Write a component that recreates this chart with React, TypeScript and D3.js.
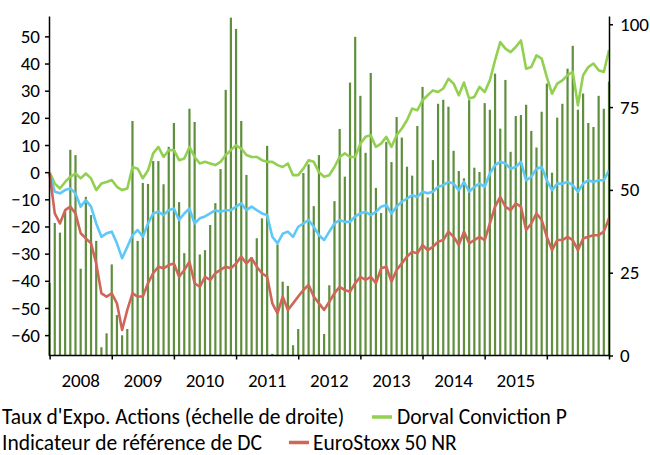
import React, { useEffect, useRef } from "react";
import * as d3 from "d3";

// one value per month, Jan 2008 -> Jan 2017
// Taux d'Expo. Actions (right axis)
const exposure = [
  21.9, 40.0, 37.1, 43.6, 62.1, 60.5, 26.2, 47.9, 42.4, 34.6, 2.5, 6.7,
  27.5, 12.2, 6.1, 8.0, 70.8, 34.6, 52.1, 51.8, 58.7, 58.7, 51.7, 63.0,
  70.2, 46.3, 30.9, 74.5, 70.5, 30.5, 31.8, 39.4, 46.0, 56.3, 80.2, 102,
  98.6, 70.8, 54.5, 29.7, 35.4, 41.4, 63.3, 0.5, 33.5, 22.3, 21.0, 3.1,
  8, 55.1, 57.7, 45.1, 60.5, 6.5, 21.2, 46.6, 68.4, 54.0, 82.4, 96.2,
  78.4, 61.2, 85.3, 50.6, 43, 64.5, 58.4, 72.0, 65.8, 57.0, 54.3, 69.3,
  81.1, 47.7, 59.0, 76.0, 77.2, 75.1, 61.8, 55.7, 53.5, 77.1, 56.7, 55.4,
  76.2, 74.2, 85.1, 68.5, 83.2, 61.5, 72.3, 72.6, 75.7, 67.8, 62.8, 73.6,
  82.1, 55.2, 71.8, 76.0, 86.6, 93.5, 74.2, 79.1, 70.2, 69.0, 78.4, 74.5,
  82.7,
];

// Dorval Conviction P (left axis, perf in %)
const dorval = [
  0, -4.2, -6, -3.6, -1.7, -0.5, -2.3, -0.5, -2.3, -6.6, -4.2, -3.6,
  -2.9, -5.4, -6.6, -6, 1.9, 1.3, -2.3, 0.7, 6.9, 9.3, 5.6, 8.1,
  8.1, 4.4, 5, 9.3, 5.6, 3.2, 3.8, 3.2, 2.6, 3.8, 6.3, 8.1,
  9.9, 8.7, 6.3, 5.6, 5.6, 4.4, 3.8, 3.8, 2.6, 1.9, 3.2, -1.1,
  -1.1, 1.3, 4.4, 3.8, 0, -1.7, -1.1, 1.9, 5.6, 6.9, 5.6, 5.6,
  10.5, 13.0, 13.6, 9.3, 10.5, 13.0, 9.3, 13.6, 16.1, 19.1, 23.4, 22.8,
  26.5, 28.3, 30.1, 29.5, 30.8, 34.4, 32.6, 28.3, 33.0, 27.1, 27.7, 31.4,
  29.5, 33.8, 41.2, 47.9, 45.5, 44.2, 46.1, 48.5, 38.1, 38.7, 43.0, 41.8,
  35.0, 28.9, 32.6, 33.8, 35.7, 36.9, 24.6, 35.7, 38.7, 40.0, 37.5, 36.9,
  44.9,
];

// Indicateur de référence de DC
const indicateur = [
  -0.5, -7.2, -7.8, -6.6, -6.0, -7.8, -12.7, -10.3, -12.7, -18.9, -23.8, -22.5,
  -21.9, -26.2, -31.7, -27.5, -23.2, -21.3, -23.8, -18.9, -15.2, -14.6, -15.8, -14.0,
  -13.4, -17.6, -15.2, -13.4, -18.9, -17.0, -16.3, -15.2, -14.0, -14.6, -14.0, -14.0,
  -12.7, -11.5, -14.0, -12.7, -14.0, -15.2, -15.8, -23.8, -26.2, -22.7, -21.9, -23.8,
  -20.1, -18.9, -17.6, -20.1, -23.2, -25.0, -21.9, -18.9, -17.6, -18.3, -18.3, -16.3,
  -15.2, -14.6, -15.8, -14.6, -12.7, -12.1, -15.2, -12.7, -10.9, -9.7, -8.5, -9.1,
  -7.2, -7.8, -7.2, -5.4, -4.8, -3.6, -4.2, -6.6, -3.6, -7.2, -5.4, -4.2,
  -5.4, -0.5, 2.6, 3.8, 3.2, 1.3, 1.9, 3.8, -3.0, -1.7, 1.3, 1.9,
  -3.0, -6.6, -4.2, -4.2, -3.6, -4.8, -7.2, -4.2, -3.0, -3.6, -3.0, -3.0,
  0.7,
];

// EuroStoxx 50 NR
const eurostoxx = [
  -0.5, -15.2, -18.9, -14.0, -12.7, -15.2, -22.5, -24.4, -26.2, -33.6, -44.6, -45.8,
  -44.6, -48.3, -58.1, -50.7, -44.6, -45.8, -45.8, -40.9, -37.2, -34.8, -35.4, -34.2,
  -33.6, -38.5, -36.0, -33.0, -40.9, -42.2, -38.5, -39.7, -37.2, -36.0, -34.8, -35.4,
  -33.6, -31.1, -33.6, -31.7, -34.8, -37.2, -38.5, -48.3, -52.0, -45.8, -50.7, -48.3,
  -45.8, -43.4, -41.5, -45.8, -48.3, -50.7, -47.7, -44.6, -42.2, -43.4, -44.0, -40.9,
  -38.5, -39.7, -38.5, -40.9, -35.4, -34.8, -40.3, -36.0, -33.6, -31.1, -29.3, -29.9,
  -26.8, -28.7, -27.5, -25.6, -25.0, -21.9, -23.8, -26.8, -21.9, -26.2, -25.0, -23.8,
  -25.0, -18.9, -12.7, -9.1, -12.7, -14.0, -11.5, -12.7, -21.3, -18.9, -15.2, -17.6,
  -23.8, -28.7, -25.0, -25.0, -23.8, -25.0, -28.7, -24.4, -23.8, -23.2, -23.2, -21.9,
  -17.0,
];

const yearLabels = ["2008", "2009", "2010", "2011", "2012", "2013", "2014", "2015"];
const leftTicks = [-60, -50, -40, -30, -20, -10, 0, 10, 20, 30, 40, 50];
const rightTicks = [0, 25, 50, 75, 100];

const font = "Carlito, Calibri, Lato, sans-serif";

function renderChart(el) {
  var width = 650;
  var height = 455;
  var left = 49, right = 609, top = 16, bottom = 355.5;

  d3.select(el).selectAll("*").remove(); // effects run twice in dev

  let svg = d3
    .select(el)
    .append("svg")
    .attr("width", width)
    .attr("height", height)
    .style("display", "block")
    .style("font-family", font);

  // month index -> x
  let x = d3.scaleLinear().domain([0, exposure.length - 1]).range([left + 0.6, right]);
  let yLeft = d3.scaleLinear().domain([-67.5, 57.5]).range([bottom, top]);
  let yRight = d3.scaleLinear().domain([0, 102.5]).range([bottom, top]);

  // bars (right scale)
  svg
    .append("g")
    .selectAll("rect")
    .data(exposure)
    .enter()
    .append("rect")
    .attr("x", (d, i) => x(i) - 1.1)
    .attr("width", 2.2)
    .attr("y", (d) => yRight(d))
    .attr("height", (d) => bottom - yRight(d))
    .attr("fill", "#5f8f3e");

  let line = d3
    .line()
    .x((d, i) => x(i))
    .y((d) => yLeft(d));

  // the three perf lines
  [
    [dorval, "#92d050"],
    [indicateur, "#5ec8f8"],
    [eurostoxx, "#cf6657"],
  ].forEach(([data, color]) => {
    svg
      .append("path")
      .datum(data)
      .attr("fill", "none")
      .attr("stroke", color)
      .attr("stroke-width", 2.6)
      .attr("stroke-linejoin", "round")
      .attr("d", line);
  });

  // left axis
  let gl = svg
    .append("g")
    .attr("transform", "translate(" + left + ",0)")
    .call(d3.axisLeft(yLeft).tickValues(leftTicks).tickSize(4).tickSizeOuter(0).tickPadding(5));

  // right axis
  let gr = svg
    .append("g")
    .attr("transform", "translate(" + right + ",0)")
    .call(d3.axisRight(yRight).tickValues(rightTicks).tickSize(4).tickSizeOuter(0).tickPadding(7));

  // bottom axis, ticks at each january
  let yearTicks = d3.range(0, exposure.length, 12);
  let gb = svg
    .append("g")
    .attr("transform", "translate(0," + bottom + ")")
    .call(d3.axisBottom(x).tickValues(yearTicks).tickFormat("").tickSize(4).tickSizeOuter(0));
  gb.select(".domain").attr("d", "M" + left + ",0H" + right);

  [gl, gr, gb].forEach((g) => {
    g.selectAll(".domain, line").attr("stroke", "#000").attr("stroke-width", 1.5);
    g.selectAll("text").attr("font-family", font).attr("font-size", 19).attr("fill", "#000");
  });

  // year labels sit between the ticks
  svg
    .append("g")
    .selectAll("text")
    .data(yearLabels)
    .enter()
    .append("text")
    .attr("x", (d, i) => x(i * 12 + 6))
    .attr("y", 387)
    .attr("text-anchor", "middle")
    .attr("font-size", 19)
    .text((d) => d);

  // legend (symbols of the first column fall outside the picture)
  let legend = svg.append("g").attr("font-size", 21.5).attr("fill", "#000");
  legend.append("text").attr("x", 2).attr("y", 424).text("Taux d'Expo. Actions (échelle de droite)");
  legend.append("line").attr("x1", 372).attr("x2", 392).attr("y1", 417).attr("y2", 417).attr("stroke", "#92d050").attr("stroke-width", 3.5);
  legend.append("text").attr("x", 397).attr("y", 424).text("Dorval Conviction P");
  legend.append("text").attr("x", 2).attr("y", 449.5).text("Indicateur de référence de DC");
  legend.append("line").attr("x1", 289).attr("x2", 309).attr("y1", 442.5).attr("y2", 442.5).attr("stroke", "#cf6657").attr("stroke-width", 3.5);
  legend.append("text").attr("x", 313).attr("y", 449.5).text("EuroStoxx 50 NR");
}

export default function App() {
  const chartRef = useRef(null);

  useEffect(() => {
    renderChart(chartRef.current);
  }, []);

  return <div ref={chartRef} style={{ position: "absolute", left: 0, top: 0 }}></div>;
}
